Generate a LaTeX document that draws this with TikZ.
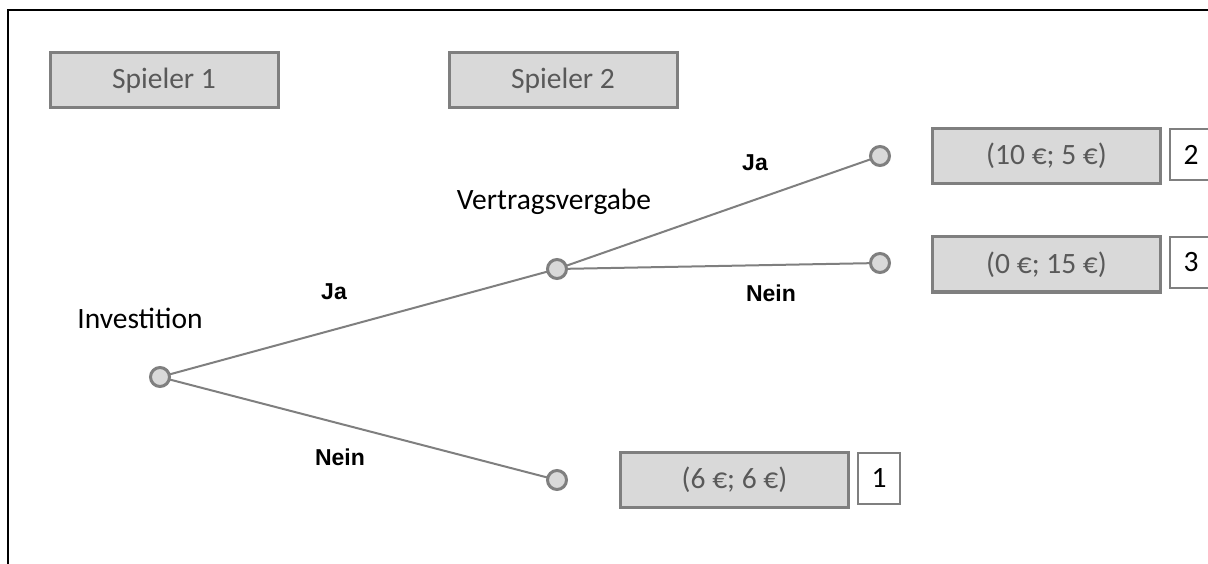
\documentclass[tikz,border=0pt]{standalone}
\usepackage{fontspec}
\usetikzlibrary{backgrounds}
\setmainfont{Carlito}
\newfontfamily\labelfont{Liberation Sans}
\definecolor{boxfill}{HTML}{D9D9D9}
\definecolor{boxline}{HTML}{7F7F7F}
\definecolor{boxtext}{HTML}{595959}
\begin{document}
\begin{tikzpicture}[x=1pt,y=-1pt,
  player/.style={draw=boxline,line width=3pt,fill=boxfill,text=boxtext,
    minimum width=228pt,minimum height=55pt,inner sep=0pt,
    font=\fontsize{29.5}{32}\selectfont},
  payoff/.style={player},
  rank/.style={draw=boxline,line width=1.2pt,fill=white,text=black,
    minimum width=42pt,minimum height=51pt,inner sep=0pt,
    font=\fontsize{29.5}{32}\selectfont},
  decision/.style={circle,draw=boxline,line width=3pt,fill=boxfill,
    minimum size=19pt,inner sep=0pt},
  stage/.style={text=black,inner sep=0pt,font=\fontsize{29.5}{32}\selectfont},
  choice/.style={text=black,inner sep=0pt,font=\labelfont\bfseries\fontsize{23}{26}\selectfont},
  branch/.style={draw=boxline,line width=2pt}]
\useasboundingbox (0,0) rectangle (1208,564);
\clip (0,0) rectangle (1208,564);
% outer frame
\draw[line width=2pt,black] (8,10) rectangle (1230,590);

% player headers
\node[player] (p1) at (164,80.5) {Spieler 1};
\node[player] (p2) at (563,80.5) {Spieler 2};

% decision nodes
\node[decision] (inv) at (160,377) {};
\node[decision] (ver) at (557,269) {};
\node[decision] (ja2) at (880,156) {};
\node[decision] (ne2) at (880,263) {};
\node[decision] (ne1) at (557,480) {};

% branches, kept behind the decision nodes
\begin{scope}[on background layer]
  \path[branch] (inv.center) -- (ver.center);
  \path[branch] (inv.center) -- (ne1.center);
  \path[branch] (ver.center) -- (ja2.center);
  \path[branch] (ver.center) -- (ne2.center);
\end{scope}

% stage labels
\node[stage] (tinv) at (140,318) {Investition};
\node[stage] (tver) at (554,202) {Vertragsvergabe};

% choice labels
\node[choice] (cja1) at (334,292) {Ja};
\node[choice] (cne1) at (340,457) {Nein};
\node[choice] (cja2) at (755,163) {Ja};
\node[choice] (cne2) at (771,293) {Nein};

% payoffs and their ranks
\node[payoff] (o1) at (1046.5,156) {(10 €; 5 €)};
\node[payoff] (o2) at (1046.5,264.5) {(0 €; 15 €)};
\node[payoff] (o3) at (734.5,479.5) {(6 €; 6 €)};
\node[rank] (r2) at (1191,154.5) {2};
\node[rank] (r3) at (1191,262.5) {3};
\node[rank] (r1) at (879,478.5) {1};
\end{tikzpicture}
\end{document}
